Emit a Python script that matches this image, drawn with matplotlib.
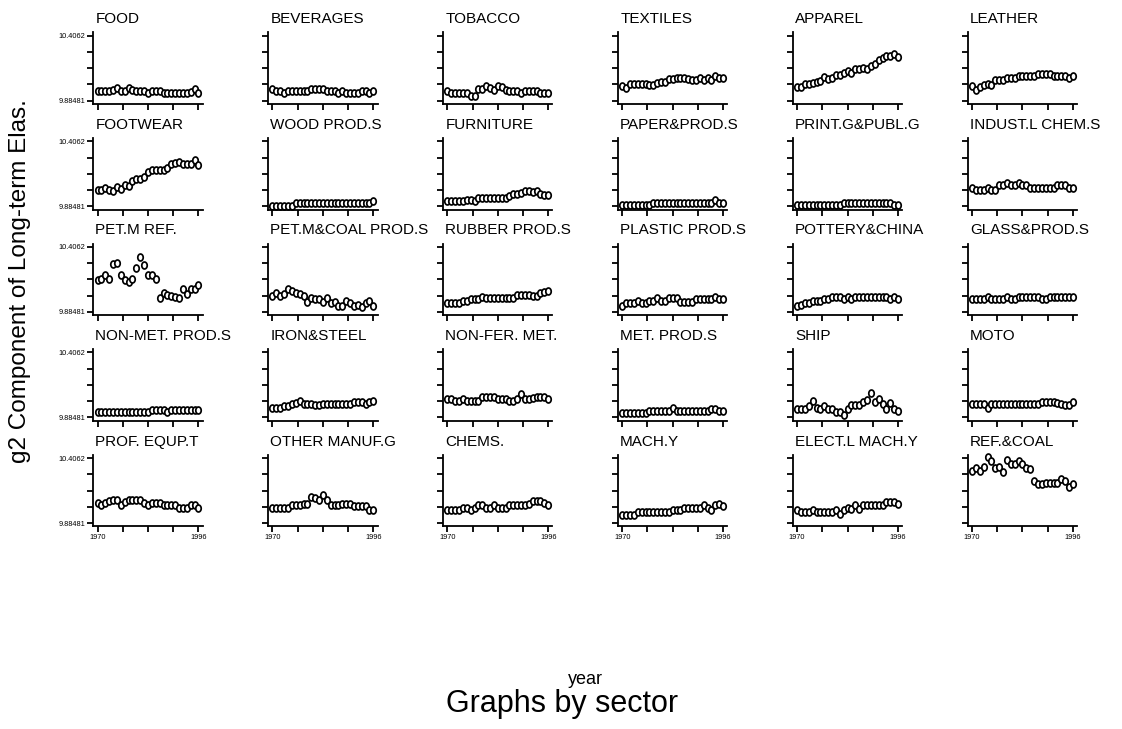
import matplotlib
matplotlib.use("Agg")
import matplotlib.pyplot as plt
import numpy as np
from matplotlib.path import Path
from matplotlib.transforms import ScaledTranslation

plt.rcParams['font.family'] = ['Liberation Sans', 'DejaVu Sans']

years = list(range(1970, 1997))
y_lo, y_hi = 9.88481, 10.4062
y_labels = ["9.88481", "10.4062"]
x_labels = ["1970", "1996"]

food = [9.960, 9.960, 9.960, 9.960, 9.971, 9.988, 9.960, 9.963, 9.988, 9.971, 9.960, 9.960, 9.960, 9.942,
        9.960, 9.966, 9.966, 9.947, 9.947, 9.947, 9.947, 9.947, 9.947, 9.947, 9.955, 9.975, 9.945]
beverages = [9.982, 9.966, 9.960, 9.942, 9.960, 9.960, 9.960, 9.960, 9.960, 9.960, 9.982, 9.982, 9.982, 9.982,
             9.960, 9.960, 9.960, 9.942, 9.966, 9.947, 9.947, 9.947, 9.947, 9.966, 9.966, 9.942, 9.966]
tobacco = [9.966, 9.947, 9.947, 9.947, 9.947, 9.947, 9.925, 9.925, 9.982, 9.982, 10.001, 9.988, 9.974, 10.001,
           9.996, 9.974, 9.960, 9.960, 9.960, 9.942, 9.966, 9.966, 9.966, 9.966, 9.947, 9.947, 9.947]
textiles = [10.006, 9.988, 10.015, 10.020, 10.020, 10.020, 10.015, 10.009, 10.009, 10.028, 10.036, 10.036, 10.055, 10.055,
            10.063, 10.069, 10.069, 10.060, 10.050, 10.050, 10.063, 10.047, 10.063, 10.047, 10.082, 10.069, 10.063]
apparel = [9.996, 9.996, 10.015, 10.015, 10.028, 10.036, 10.042, 10.077, 10.055, 10.069, 10.087, 10.087, 10.109, 10.122,
           10.109, 10.136, 10.136, 10.150, 10.136, 10.163, 10.177, 10.212, 10.231, 10.244, 10.244, 10.258, 10.239]
leather = [10.001, 9.974, 9.993, 10.009, 10.015, 10.009, 10.047, 10.047, 10.047, 10.069, 10.069, 10.069, 10.082, 10.082,
           10.082, 10.082, 10.082, 10.096, 10.096, 10.096, 10.096, 10.082, 10.082, 10.082, 10.082, 10.063, 10.082]
footwear = [10.012, 10.012, 10.034, 10.012, 10.005, 10.039, 10.026, 10.052, 10.047, 10.087, 10.100, 10.100, 10.119, 10.159,
            10.172, 10.177, 10.177, 10.172, 10.193, 10.225, 10.231, 10.239, 10.225, 10.225, 10.225, 10.257, 10.217]
wood = [9.890, 9.890, 9.890, 9.890, 9.890, 9.890, 9.911, 9.911, 9.911, 9.911, 9.911, 9.911, 9.911, 9.911,
        9.911, 9.911, 9.911, 9.911, 9.911, 9.911, 9.911, 9.911, 9.911, 9.911, 9.911, 9.911, 9.927]
furniture = [9.925, 9.925, 9.925, 9.925, 9.925, 9.933, 9.938, 9.927, 9.954, 9.954, 9.954, 9.954, 9.954, 9.954,
             9.954, 9.954, 9.967, 9.981, 9.986, 9.994, 10.007, 10.007, 9.999, 10.007, 9.986, 9.978, 9.978]
paper = [9.893, 9.893, 9.893, 9.893, 9.893, 9.893, 9.893, 9.893, 9.911, 9.911, 9.911, 9.911, 9.911, 9.911,
         9.911, 9.911, 9.911, 9.911, 9.911, 9.911, 9.911, 9.911, 9.911, 9.911, 9.932, 9.911, 9.911]
printing = [9.893, 9.893, 9.893, 9.893, 9.893, 9.893, 9.893, 9.893, 9.893, 9.893, 9.893, 9.893, 9.911, 9.911,
            9.911, 9.911, 9.911, 9.911, 9.911, 9.911, 9.911, 9.911, 9.911, 9.911, 9.911, 9.893, 9.893]
indust_chem = [10.034, 10.012, 10.012, 10.012, 10.034, 10.012, 10.012, 10.052, 10.052, 10.071, 10.052, 10.052, 10.071, 10.052,
               10.052, 10.034, 10.034, 10.034, 10.034, 10.034, 10.034, 10.034, 10.052, 10.052, 10.052, 10.034, 10.034]
pet_ref = [10.144, 10.152, 10.179, 10.152, 10.265, 10.278, 10.179, 10.144, 10.125, 10.152, 10.240, 10.321, 10.259, 10.179,
           10.179, 10.152, 9.997, 10.032, 10.018, 10.013, 10.005, 9.997, 10.067, 10.024, 10.067, 10.067, 10.099]
pet_coal = [10.010, 10.032, 10.010, 10.024, 10.067, 10.053, 10.037, 10.024, 10.010, 9.965, 9.997, 9.984, 9.984, 9.965,
            9.992, 9.952, 9.965, 9.933, 9.933, 9.970, 9.952, 9.933, 9.938, 9.925, 9.952, 9.970, 9.933]
rubber = [9.952, 9.952, 9.952, 9.952, 9.970, 9.970, 9.984, 9.984, 9.984, 10.005, 9.997, 9.997, 9.997, 9.997,
          9.997, 9.997, 9.997, 9.997, 10.018, 10.018, 10.018, 10.018, 10.010, 10.010, 10.032, 10.040, 10.051]
plastic = [9.933, 9.952, 9.952, 9.952, 9.970, 9.952, 9.952, 9.970, 9.970, 9.992, 9.970, 9.970, 9.992, 9.992,
           9.992, 9.965, 9.965, 9.965, 9.965, 9.986, 9.986, 9.986, 9.986, 9.986, 10.005, 9.986, 9.986]
pottery = [9.933, 9.938, 9.952, 9.952, 9.970, 9.970, 9.970, 9.986, 9.986, 10.005, 10.005, 10.005, 9.986, 10.005,
           9.986, 10.005, 10.005, 10.005, 10.005, 10.005, 10.005, 10.005, 10.005, 10.005, 9.986, 10.005, 9.986]
glass = [9.986, 9.986, 9.986, 9.986, 10.005, 9.986, 9.986, 9.986, 9.986, 10.005, 9.986, 9.986, 10.005, 10.005,
         10.005, 10.005, 10.005, 10.005, 9.986, 9.986, 10.005, 10.005, 10.005, 10.005, 10.005, 10.005, 10.005]
non_met = [9.925, 9.925, 9.925, 9.925, 9.925, 9.925, 9.925, 9.925, 9.925, 9.925, 9.925, 9.925, 9.925, 9.925,
           9.943, 9.943, 9.943, 9.943, 9.925, 9.943, 9.943, 9.943, 9.943, 9.943, 9.943, 9.943, 9.943]
iron_steel = [9.964, 9.964, 9.964, 9.977, 9.977, 9.991, 9.999, 10.017, 9.991, 9.991, 9.991, 9.983, 9.983, 9.991,
              9.991, 9.991, 9.991, 9.991, 9.991, 9.991, 9.991, 10.009, 10.009, 10.009, 9.991, 10.009, 10.017]
non_fer = [10.036, 10.036, 10.017, 10.017, 10.036, 10.017, 10.017, 10.017, 10.017, 10.052, 10.052, 10.052, 10.052, 10.030,
           10.030, 10.030, 10.017, 10.017, 10.036, 10.075, 10.030, 10.030, 10.044, 10.052, 10.052, 10.052, 10.030]
met_prod = [9.919, 9.919, 9.919, 9.919, 9.919, 9.919, 9.919, 9.938, 9.938, 9.938, 9.938, 9.938, 9.938, 9.964,
            9.938, 9.938, 9.938, 9.938, 9.938, 9.938, 9.938, 9.938, 9.938, 9.956, 9.956, 9.938, 9.938]
ship = [9.956, 9.956, 9.956, 9.977, 10.017, 9.964, 9.951, 9.977, 9.956, 9.956, 9.925, 9.925, 9.903, 9.956,
        9.983, 9.983, 9.983, 10.009, 10.025, 10.083, 10.009, 10.036, 9.991, 9.956, 10.004, 9.956, 9.938]
moto = [9.991, 9.991, 9.991, 9.991, 9.964, 9.991, 9.991, 9.991, 9.991, 9.991, 9.991, 9.991, 9.991, 9.991,
        9.991, 9.991, 9.991, 9.991, 10.009, 10.009, 10.009, 10.009, 9.999, 9.991, 9.983, 9.983, 10.009]
prof_equip = [10.049, 10.033, 10.049, 10.060, 10.069, 10.069, 10.033, 10.055, 10.069, 10.069, 10.069, 10.069, 10.049, 10.033,
              10.049, 10.049, 10.049, 10.033, 10.033, 10.033, 10.033, 10.006, 10.006, 10.006, 10.027, 10.027, 10.006]
other_manuf = [10.006, 10.006, 10.006, 10.006, 10.006, 10.027, 10.027, 10.027, 10.041, 10.041, 10.096, 10.082, 10.069, 10.110,
               10.069, 10.027, 10.027, 10.027, 10.041, 10.041, 10.041, 10.022, 10.022, 10.022, 10.022, 9.986, 9.986]
chems = [9.986, 9.986, 9.986, 9.986, 10.006, 10.006, 9.986, 10.006, 10.027, 10.027, 10.006, 10.006, 10.027, 10.006,
         10.006, 10.006, 10.027, 10.027, 10.027, 10.027, 10.027, 10.041, 10.060, 10.060, 10.060, 10.049, 10.027]
machinery = [9.953, 9.953, 9.953, 9.953, 9.973, 9.973, 9.973, 9.973, 9.973, 9.973, 9.973, 9.973, 9.973, 9.992,
             9.992, 9.992, 10.008, 10.008, 10.008, 10.008, 10.008, 10.027, 10.008, 9.986, 10.027, 10.041, 10.022]
elect_mach = [9.986, 9.973, 9.973, 9.973, 9.986, 9.973, 9.973, 9.973, 9.973, 9.973, 9.986, 9.959, 9.986, 10.006,
              10.000, 10.027, 10.000, 10.027, 10.027, 10.027, 10.027, 10.027, 10.027, 10.055, 10.055, 10.055, 10.041]
ref_coal = [10.302, 10.324, 10.302, 10.335, 10.417, 10.384, 10.329, 10.335, 10.296, 10.390, 10.357, 10.357, 10.379, 10.357,
            10.324, 10.316, 10.225, 10.198, 10.198, 10.206, 10.206, 10.206, 10.206, 10.241, 10.219, 10.178, 10.198]

sector_names = ["FOOD", "BEVERAGES", "TOBACCO", "TEXTILES", "APPAREL", "LEATHER",
                "FOOTWEAR", "WOOD PROD.S", "FURNITURE", "PAPER&PROD.S", "PRINT.G&PUBL.G", "INDUST.L CHEM.S",
                "PET.M REF.", "PET.M&COAL PROD.S", "RUBBER PROD.S", "PLASTIC PROD.S", "POTTERY&CHINA", "GLASS&PROD.S",
                "NON-MET. PROD.S", "IRON&STEEL", "NON-FER. MET.", "MET. PROD.S", "SHIP", "MOTO",
                "PROF. EQUP.T", "OTHER MANUF.G", "CHEMS.", "MACH.Y", "ELECT.L MACH.Y", "REF.&COAL"]
sector_values = [food, beverages, tobacco, textiles, apparel, leather,
                 footwear, wood, furniture, paper, printing, indust_chem,
                 pet_ref, pet_coal, rubber, plastic, pottery, glass,
                 non_met, iron_steel, non_fer, met_prod, ship, moto,
                 prof_equip, other_manuf, chems, machinery, elect_mach, ref_coal]

# slightly tall hollow "O" marker like Stata's
t = np.linspace(0, 2 * np.pi, 64)
o_marker = Path(np.column_stack([0.78 * np.cos(t), np.sin(t)]), closed=True)

W, H = 1122, 729
fig = plt.figure(figsize=(W / 100, H / 100), dpi=100)
fig.patch.set_facecolor("white")

ax_w, ax_h = 109.4, 71.7
col_step, row_step = 174.9, 105.6
left0, top0 = 93.3, 32.3

yticks = np.linspace(y_lo, y_hi, 5)
xticks = np.linspace(years[0], years[-1], 5)
pad_y = (y_hi - y_lo) * 0.052

for i, (name, vals) in enumerate(zip(sector_names, sector_values)):
    r, c = divmod(i, 6)
    left = left0 + c * col_step
    top = top0 + r * row_step
    ax = fig.add_axes([left / W, 1 - (top + ax_h) / H, ax_w / W, ax_h / H])
    ax.plot(years, vals, linestyle="none", marker=o_marker, markersize=5.0,
            markerfacecolor="white", markeredgecolor="black", markeredgewidth=1.25, clip_on=False)
    ax.set_xlim(1968.9, 1997.1)
    ax.set_ylim(y_lo - pad_y, y_hi + pad_y)
    for s in ["top", "right"]:
        ax.spines[s].set_visible(False)
    for s in ["left", "bottom"]:
        ax.spines[s].set_linewidth(1.3)
    ax.set_yticks(yticks)
    ax.set_xticks(xticks)
    if c == 0:
        ax.set_yticklabels([y_labels[0], "", "", "", y_labels[1]])
    else:
        ax.set_yticklabels([""] * 5)
    if r == 4:
        ax.set_xticklabels([x_labels[0], "", "", "", x_labels[1]])
    else:
        ax.set_xticklabels([""] * 5)
    ax.tick_params(axis="both", direction="out", length=4, width=1.3, labelsize=5.3, pad=1.5, colors="black")
    ax.text(0.02, 1.0, name, transform=ax.transAxes + ScaledTranslation(0, 0.09, fig.dpi_scale_trans),
            fontsize=11, ha="left", va="baseline", color="black")

fig.text(20 / W, 1 - 281 / H, "g2 Component of Long-term Elas.", rotation=90,
         ha="center", va="center", fontsize=17.5)
fig.text(585 / W, 1 - 680 / H, "year", ha="center", va="center", fontsize=13)
fig.text(562 / W, 1 - 704 / H, "Graphs by sector", ha="center", va="center", fontsize=22)

fig.savefig("out.png", dpi=100, facecolor="white")
